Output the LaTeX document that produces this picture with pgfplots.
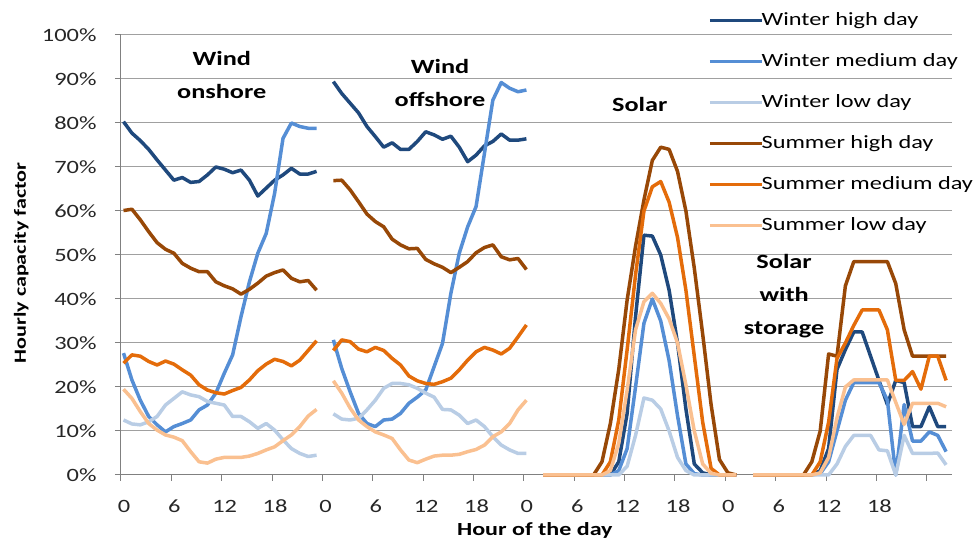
\documentclass[border=0pt]{standalone}
\usepackage{pgfplots}
\pgfplotsset{compat=1.18}
\usepackage{pgfplotstable}
\usepackage{fontspec}
\setmainfont{Carlito}[FakeStretch=1.3]

\definecolor{wh}{RGB}{31,73,125}
\definecolor{wm}{RGB}{85,142,213}
\definecolor{wl}{RGB}{185,205,229}
\definecolor{sh}{RGB}{152,72,7}
\definecolor{sm}{RGB}{228,108,10}
\definecolor{sl}{RGB}{250,192,144}
\definecolor{gridgray}{RGB}{160,160,160}

% x = panel offset + hour index, values in %
\pgfplotstableread{
x wh wm wl sh sm sl
0.3 80.3 27.7 12.5 60.1 25.4 19.5
1.3 77.7 21.6 11.6 60.4 27.3 17.4
2.3 76.0 17.0 11.4 58.0 27.0 14.4
3.3 74.0 13.3 12.1 55.3 25.8 11.7
4.3 71.6 11.4 13.3 52.8 25.0 10.2
5.3 69.3 9.8 15.9 51.3 25.9 9.1
6.3 67.0 11.0 17.4 50.4 25.2 8.6
7.3 67.6 11.7 18.9 48.1 23.9 7.8
8.3 66.5 12.5 18.2 47.0 22.7 5.3
9.3 66.7 14.8 17.8 46.2 20.5 3.0
10.3 68.2 15.9 16.7 46.2 19.3 2.7
11.3 70.0 18.6 16.3 43.9 18.7 3.6
12.3 69.5 23.1 15.9 43.0 18.4 4.0
13.3 68.7 27.3 13.3 42.3 19.2 4.0
14.3 69.3 36.0 13.3 41.1 19.9 4.0
15.3 67.0 43.9 12.1 42.2 21.6 4.3
16.3 63.4 50.4 10.6 43.6 23.7 4.9
17.3 65.2 54.9 11.7 45.2 25.2 5.7
18.3 67.0 64.0 10.2 46.0 26.3 6.4
19.3 68.2 76.5 8.0 46.6 25.8 7.8
20.3 69.7 80.0 6.0 44.7 24.8 9.1
21.3 68.4 79.2 4.9 43.9 26.1 11.0
22.3 68.4 78.8 4.2 44.2 28.3 13.4
23.3 69.0 78.8 4.5 42.0 30.5 14.9
}\onshore

\pgfplotstableread{
x wh wm wl sh sm sl
25.3 89.4 30.7 13.9 66.9 28.3 21.4
26.3 86.7 24.2 12.7 67.0 30.7 18.6
27.3 84.5 18.9 12.5 64.8 30.3 15.2
28.3 82.3 14.0 12.9 62.1 28.6 12.5
29.3 79.2 11.7 14.8 59.3 28.0 11.0
30.3 76.9 11.0 17.0 57.6 29.0 9.8
31.3 74.5 12.5 19.7 56.4 28.3 9.1
32.3 75.5 12.7 20.8 53.6 26.5 8.3
33.3 74.0 14.0 20.8 52.3 25.0 5.7
34.3 74.0 16.3 20.5 51.4 22.5 3.4
35.3 75.8 17.7 19.7 51.5 21.4 2.8
36.3 78.0 19.3 18.6 49.0 20.8 3.6
37.3 77.3 24.6 17.7 48.0 20.6 4.3
38.3 76.3 29.9 14.9 47.2 21.2 4.5
39.3 77.0 41.3 14.8 46.0 22.0 4.5
40.3 74.5 50.4 13.6 47.2 23.9 4.7
41.3 71.2 56.4 11.7 48.5 26.1 5.3
42.3 72.7 61.0 12.5 50.5 28.0 5.8
43.3 74.8 73.1 11.0 51.7 29.0 6.8
44.3 75.8 85.2 8.7 52.3 28.4 8.7
45.3 77.5 89.2 6.8 49.6 27.5 9.8
46.3 76.1 87.9 5.7 48.9 28.8 11.7
47.3 76.1 87.1 4.9 49.2 31.4 14.8
48.3 76.4 87.5 4.9 46.7 34.1 17.0
}\offshore

\pgfplotstableread{
x wh wm wl sh sm sl
50.3 0 0 0 0 0 0
51.3 0 0 0 0 0 0
52.3 0 0 0 0 0 0
53.3 0 0 0 0 0 0
54.3 0 0 0 0 0 0
55.3 0 0 0 0 0 0
56.3 0 0 0 0 0 0
57.3 0 0 0 3.0 0 0
58.3 0 0 0 11.7 3.0 1.0
59.3 3.0 1.0 0 24.0 12.5 7.2
60.3 14.0 6.0 2.0 39.8 28.5 19.3
61.3 36.0 20.0 9.0 52.0 45.5 33.0
62.3 54.5 34.5 17.5 62.5 60.0 39.4
63.3 54.3 40.0 17.0 71.5 65.5 41.3
64.3 50.0 35.0 15.0 74.5 66.7 39.0
65.3 42.0 26.0 10.0 74.0 62.0 35.5
66.3 30.0 13.5 4.0 69.0 54.0 30.0
67.3 15.0 2.5 1.0 60.0 42.0 20.5
68.3 2.5 0.3 0 47.0 27.0 10.0
69.3 0.5 0 0 32.0 12.0 2.5
70.3 0 0 0 16.0 1.5 0.4
71.3 0 0 0 3.5 0 0
72.3 0 0 0 0.5 0 0
73.3 0 0 0 0 0 0
}\solar

\pgfplotstableread{
x wh wm wl sh sm sl
75.3 0 0 0 0 0 0
76.3 0 0 0 0 0 0
77.3 0 0 0 0 0 0
78.3 0 0 0 0 0 0
79.3 0 0 0 0 0 0
80.3 0 0 0 0 0 0
81.3 0 0 0 0 0 0
82.3 0 0 0 3.0 0 0
83.3 1.0 0.3 0 10.0 3.0 0.5
84.3 6.0 3.0 0 27.5 12.0 4.0
85.3 24.0 10.0 2.5 27.0 26.5 13.0
86.3 28.5 17.0 6.5 43.0 30.0 20.0
87.3 32.5 21.0 9.0 48.5 34.0 21.6
88.3 32.5 21.0 9.0 48.5 37.5 21.6
89.3 27.0 21.0 9.0 48.5 37.5 21.6
90.3 21.5 21.0 5.7 48.5 37.5 21.6
91.3 16.0 17.0 5.5 48.5 33.0 21.6
92.3 21.5 0 0 43.5 21.5 16.5
93.3 21.0 16.0 9.0 33.0 21.5 11.5
94.3 11.0 7.7 4.9 27.0 23.5 16.3
95.3 11.0 7.7 4.9 27.0 19.5 16.3
96.3 15.5 9.8 4.9 27.0 27.0 16.3
97.3 11.0 9.0 5.0 27.0 27.0 16.3
98.3 11.0 5.3 2.3 27.0 21.5 15.5
}\storage

\newcommand{\panel}[2]{%
  \addplot[wh,#2] table[x=x,y=wh]{#1};
  \addplot[wm,#2] table[x=x,y=wm]{#1};
  \addplot[wl,#2] table[x=x,y=wl]{#1};
  \addplot[sh,#2] table[x=x,y=sh]{#1};
  \addplot[sm,#2] table[x=x,y=sm]{#1};
  \addplot[sl,#2] table[x=x,y=sl]{#1};
}

\begin{document}
\begin{tikzpicture}
\path[use as bounding box] (-60.5pt,-34.5pt) rectangle (429.5pt,237.5pt);
\begin{axis}[
    scale only axis,
    width=415.5pt, height=220pt,
    at={(0,0)}, anchor=south west,
    xmin=0, xmax=99, ymin=0, ymax=100,
    clip=false,
    axis x line=bottom, axis y line=left,
    axis line style={-, draw=gray, line width=0.5pt},
    ymajorgrids,
    grid style={gridgray, line width=0.5pt},
    xtick={0,6,...,96},
    xticklabels={0,6,12,18,0,6,12,18,0,6,12,18,0,6,12,18,},
    ytick={0,10,...,100},
    yticklabels={0\%,10\%,20\%,30\%,40\%,50\%,60\%,70\%,80\%,90\%,100\%},
    tick align=outside,
    major tick length=3pt,
    tick style={gray, line width=0.5pt},
    ticklabel style={font=\fontsize{9.4}{11}\selectfont, text=black!85},
    xticklabel style={anchor=center, yshift=-12.5pt, xshift=1.5pt, inner sep=0pt},
    yticklabel style={anchor=east, inner sep=0pt, xshift=-9pt},
    xlabel={Hour of the day},
    xlabel style={font=\bfseries\fontsize{9.25}{11}\selectfont, at={(axis description cs:0.498,-0.126)}, anchor=center},
    ylabel={Hourly capacity factor},
    ylabel style={font=\bfseries\fontsize{8.5}{10}\selectfont, at={(axis description cs:-0.12,0.482)}, anchor=center},
    every axis plot/.append style={line width=1.75pt, line join=round, no markers},
    legend entries={Winter high day, Winter medium day, Winter low day, Summer high day, Summer medium day, Summer low day},
    legend image code/.code={\draw[#1] (0pt,0pt) -- (26pt,0pt);},
    legend cell align=left,
    legend style={at={(axis cs:69.9,106.1)}, anchor=north west, draw=none, fill=none,
        font=\fontsize{9.35}{11}\selectfont, row sep=8.5pt, column sep=-3pt, inner sep=0pt},
]
\panel{\onshore}{}
\panel{\offshore}{forget plot}
\panel{\solar}{forget plot}
\panel{\storage}{forget plot}

\node[font=\bfseries\fontsize{10.1}{16.5}\selectfont, align=center] at (axis cs:12,90.8) {Wind\\onshore};
\node[font=\bfseries\fontsize{10.1}{16.5}\selectfont, align=center] at (axis cs:38,89.2) {Wind\\offshore};
\node[font=\bfseries\fontsize{10.1}{16.5}\selectfont, align=center] at (axis cs:61.8,84.1) {Solar};
\node[font=\bfseries\fontsize{10.1}{16.5}\selectfont, align=center] at (axis cs:79,40.7) {Solar\\with\\storage};
\end{axis}
\end{tikzpicture}
\end{document}
